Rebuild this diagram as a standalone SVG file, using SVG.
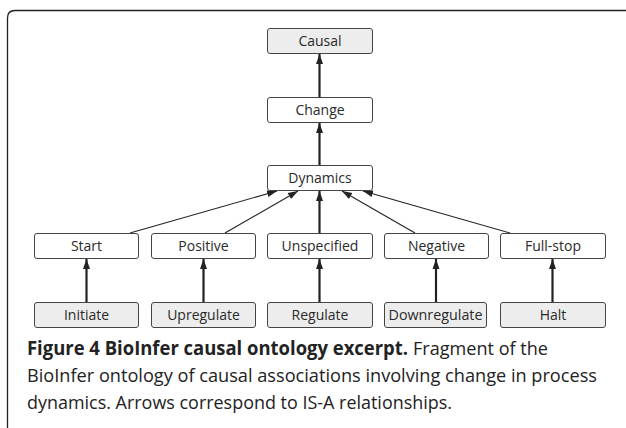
<svg xmlns="http://www.w3.org/2000/svg" width="626" height="428" viewBox="0 0 626 428">
<style>
.box{stroke:#444;stroke-width:1;fill:#fff}
.gray{fill:#ededed}
.lbl{font-family:"Open Sans","DejaVu Sans",sans-serif;font-size:14px;fill:#2a2a2a;text-anchor:middle}
.thick{stroke:#222;stroke-width:2.2;fill:none}
.thin{stroke:#222;stroke-width:1.1;fill:none}
.cap{font-family:"Open Sans","Liberation Sans",sans-serif;font-size:19px;fill:#222}
</style>
<defs>
<marker id="ah" viewBox="0 0 10 10" refX="10" refY="5" markerWidth="10" markerHeight="10" markerUnits="userSpaceOnUse" orient="auto">
<path d="M0,1.5 L10,5 L0,8.5 z" fill="#222"/>
</marker>
</defs>
<rect width="626" height="428" fill="#fff"/>
<path d="M7.5,428 L7.5,18 Q7.5,10.5 15,10.5 L626,10.5" fill="none" stroke="#222" stroke-width="1.3"/>
<g id="connectors">
<line class="thick" x1="319.5" y1="97" x2="319.5" y2="54" marker-end="url(#ah)"/>
<line class="thick" x1="319.5" y1="166" x2="319.5" y2="123" marker-end="url(#ah)"/>
<line class="thin" x1="130" y1="233" x2="277" y2="191" marker-end="url(#ah)"/>
<line class="thin" x1="225" y1="233" x2="298" y2="191" marker-end="url(#ah)"/>
<line class="thick" x1="319.5" y1="233" x2="319.5" y2="191" marker-end="url(#ah)"/>
<line class="thin" x1="415" y1="233" x2="342" y2="191" marker-end="url(#ah)"/>
<line class="thin" x1="510" y1="233" x2="363" y2="191" marker-end="url(#ah)"/>
<line class="thick" x1="86.5" y1="302" x2="86.5" y2="259" marker-end="url(#ah)"/>
<line class="thick" x1="203.5" y1="302" x2="203.5" y2="259" marker-end="url(#ah)"/>
<line class="thick" x1="319.5" y1="302" x2="319.5" y2="259" marker-end="url(#ah)"/>
<line class="thick" x1="436" y1="302" x2="436" y2="259" marker-end="url(#ah)"/>
<line class="thick" x1="552.5" y1="302" x2="552.5" y2="259" marker-end="url(#ah)"/>
</g>
<g id="causal"><rect class="box gray" x="267.5" y="28.5" width="105" height="25" rx="2.5"/><text class="lbl" x="320" y="46">Causal</text></g>
<g id="change"><rect class="box" x="267.5" y="97.5" width="105" height="25" rx="2.5"/><text class="lbl" x="320" y="115">Change</text></g>
<g id="dynamics"><rect class="box" x="267.5" y="165.5" width="105" height="25" rx="2.5"/><text class="lbl" x="320" y="183">Dynamics</text></g>
<g id="start"><rect class="box" x="34.5" y="233.5" width="104" height="25" rx="2.5"/><text class="lbl" x="86.5" y="251">Start</text></g>
<g id="positive"><rect class="box" x="151.5" y="233.5" width="104" height="25" rx="2.5"/><text class="lbl" x="203.5" y="251">Positive</text></g>
<g id="unspecified"><rect class="box" x="267.5" y="233.5" width="105" height="25" rx="2.5"/><text class="lbl" x="320" y="251">Unspecified</text></g>
<g id="negative"><rect class="box" x="384.5" y="233.5" width="104" height="25" rx="2.5"/><text class="lbl" x="436.5" y="251">Negative</text></g>
<g id="fullstop"><rect class="box" x="500.5" y="233.5" width="105" height="25" rx="2.5"/><text class="lbl" x="553" y="251">Full-stop</text></g>
<g id="initiate"><rect class="box gray" x="34.5" y="302.5" width="104" height="25" rx="2.5"/><text class="lbl" x="86.5" y="320">Initiate</text></g>
<g id="upregulate"><rect class="box gray" x="151.5" y="302.5" width="104" height="25" rx="2.5"/><text class="lbl" x="203.5" y="320">Upregulate</text></g>
<g id="regulate"><rect class="box gray" x="267.5" y="302.5" width="105" height="25" rx="2.5"/><text class="lbl" x="320" y="320">Regulate</text></g>
<g id="downregulate"><rect class="box gray" x="384.5" y="302.5" width="102" height="25" rx="2.5"/><text class="lbl" x="435.5" y="320" textLength="94" lengthAdjust="spacingAndGlyphs">Downregulate</text></g>
<g id="halt"><rect class="box gray" x="500.5" y="302.5" width="105" height="25" rx="2.5"/><text class="lbl" x="553" y="320">Halt</text></g>
<g id="caption">
<text class="cap" x="27" y="355"><tspan font-weight="bold" textLength="381" lengthAdjust="spacingAndGlyphs">Figure 4 BioInfer causal ontology excerpt.</tspan><tspan x="413" textLength="135" lengthAdjust="spacingAndGlyphs">Fragment of the</tspan></text>
<text class="cap" x="27" y="382" textLength="570" lengthAdjust="spacingAndGlyphs">BioInfer ontology of causal associations involving change in process</text>
<text class="cap" x="27" y="409" textLength="425" lengthAdjust="spacingAndGlyphs">dynamics. Arrows correspond to IS-A relationships.</text>
</g>
</svg>
